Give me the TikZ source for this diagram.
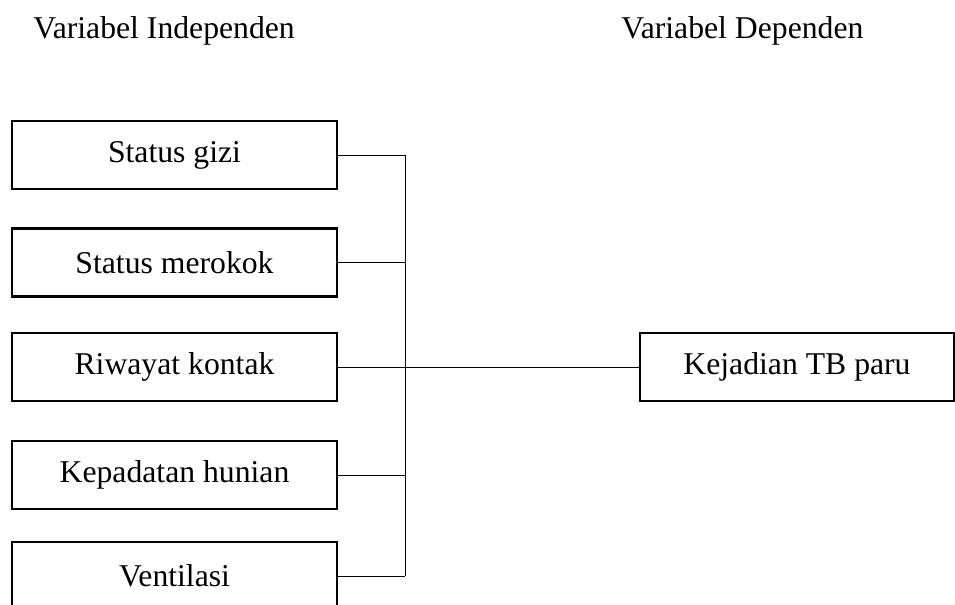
\documentclass[tikz,border=0pt]{standalone}
\usepackage{fontspec}
\setmainfont{Liberation Serif}
\begin{document}
\begin{tikzpicture}[x=0.5pt, y=-0.5pt,
    varbox/.style={draw, line width=1.2pt, minimum width=162.5pt, minimum height=34pt, inner sep=0pt, font=\fontsize{15.85}{19}\selectfont},
    vartitle/.style={anchor=base west, inner sep=0pt, font=\fontsize{15.85}{19}\selectfont},
    link/.style={line width=0.5pt}]
            % Define frame
            \useasboundingbox (0,0) rectangle (955,605);
            
            % Titles
            \node[vartitle] (indep) at (33,39) {Variabel Independen};
            \node[vartitle] (dep) at (621,39) {Variabel Dependen};
            
            % Independent variables
            \node[varbox] (gizi) at (174.5,155) {Status gizi};
            \node[varbox] (rokok) at (174.5,262.5) {Status merokok};
            \node[varbox] (kontak) at (174.5,367) {Riwayat kontak};
            \node[varbox] (hunian) at (174.5,475) {Kepadatan hunian};
            \node[varbox] (venti) at (174.5,576) {Ventilasi};
            
            % Dependent variable
            \node[varbox, minimum width=157pt] (tb) at (797,367) {Kejadian TB paru};
            
            % Bus line
            \coordinate (bus) at (405,0);
            \draw[link] (gizi.east) -- (bus |- gizi.east);
            \draw[link] (rokok.east) -- (bus |- rokok.east);
            \draw[link] (kontak.east) -- (bus |- kontak.east);
            \draw[link] (hunian.east) -- (bus |- hunian.east);
            \draw[link] (venti.east) -- (bus |- venti.east);
            \draw[link] (bus |- gizi.east) -- (bus |- venti.east);
            \draw[link] (bus |- kontak.east) -- (tb.west);
        \end{tikzpicture}
\end{document}
